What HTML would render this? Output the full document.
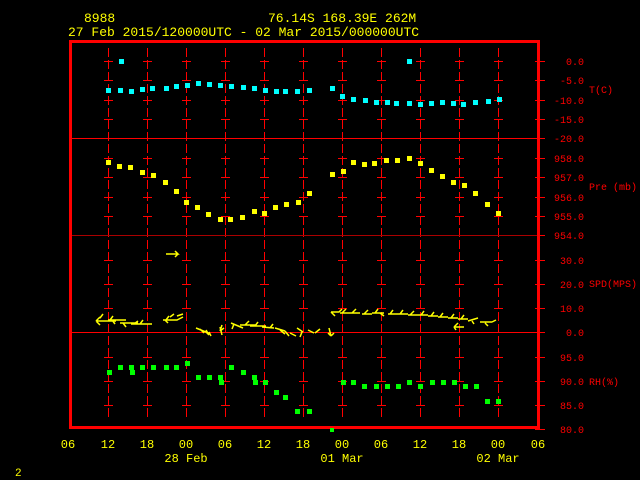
<!DOCTYPE html>
<html><head><meta charset="utf-8"><style>
html,body{margin:0;padding:0;background:#000;width:640px;height:480px;overflow:hidden}
svg{display:block}
text{font-family:"Liberation Mono",monospace}
</style></head><body>
<svg width="640" height="480" viewBox="0 0 640 480" xmlns="http://www.w3.org/2000/svg">
<rect width="640" height="480" fill="#000"/>
<g fill="#ff0" font-size="13">
<text x="84" y="22">8988</text>
<text x="268" y="22">76.14S  168.39E   262M</text>
<text x="68" y="36">27 Feb 2015/120000UTC - 02 Mar 2015/000000UTC</text>
</g>
<g stroke="#f00" stroke-width="1" stroke-dasharray="9 3" shape-rendering="crispEdges">
<line x1="108.5" y1="48" x2="108.5" y2="420"/><line x1="147.5" y1="48" x2="147.5" y2="420"/>
<line x1="186.5" y1="48" x2="186.5" y2="420"/><line x1="225.5" y1="48" x2="225.5" y2="420"/>
<line x1="264.5" y1="48" x2="264.5" y2="420"/><line x1="303.5" y1="48" x2="303.5" y2="420"/>
<line x1="342.5" y1="48" x2="342.5" y2="420"/><line x1="381.5" y1="48" x2="381.5" y2="420"/>
<line x1="420.5" y1="48" x2="420.5" y2="420"/><line x1="459.5" y1="48" x2="459.5" y2="420"/>
<line x1="498.5" y1="48" x2="498.5" y2="420"/>
</g>
<g stroke="#f00" stroke-width="1" shape-rendering="crispEdges">
<path d="M104 61.5h9m30 0h9m30 0h9m30 0h9m30 0h9m30 0h9m30 0h9m30 0h9m30 0h9m30 0h9m30 0h9
M104 80.5h9m30 0h9m30 0h9m30 0h9m30 0h9m30 0h9m30 0h9m30 0h9m30 0h9m30 0h9m30 0h9
M104 100.5h9m30 0h9m30 0h9m30 0h9m30 0h9m30 0h9m30 0h9m30 0h9m30 0h9m30 0h9m30 0h9
M104 119.5h9m30 0h9m30 0h9m30 0h9m30 0h9m30 0h9m30 0h9m30 0h9m30 0h9m30 0h9m30 0h9
M104 158.5h9m30 0h9m30 0h9m30 0h9m30 0h9m30 0h9m30 0h9m30 0h9m30 0h9m30 0h9m30 0h9
M104 177.5h9m30 0h9m30 0h9m30 0h9m30 0h9m30 0h9m30 0h9m30 0h9m30 0h9m30 0h9m30 0h9
M104 197.5h9m30 0h9m30 0h9m30 0h9m30 0h9m30 0h9m30 0h9m30 0h9m30 0h9m30 0h9m30 0h9
M104 216.5h9m30 0h9m30 0h9m30 0h9m30 0h9m30 0h9m30 0h9m30 0h9m30 0h9m30 0h9m30 0h9
M104 260.5h9m30 0h9m30 0h9m30 0h9m30 0h9m30 0h9m30 0h9m30 0h9m30 0h9m30 0h9m30 0h9
M104 284.5h9m30 0h9m30 0h9m30 0h9m30 0h9m30 0h9m30 0h9m30 0h9m30 0h9m30 0h9m30 0h9
M104 308.5h9m30 0h9m30 0h9m30 0h9m30 0h9m30 0h9m30 0h9m30 0h9m30 0h9m30 0h9m30 0h9
M104 357.5h9m30 0h9m30 0h9m30 0h9m30 0h9m30 0h9m30 0h9m30 0h9m30 0h9m30 0h9m30 0h9
M104 381.5h9m30 0h9m30 0h9m30 0h9m30 0h9m30 0h9m30 0h9m30 0h9m30 0h9m30 0h9m30 0h9
M104 405.5h9m30 0h9m30 0h9m30 0h9m30 0h9m30 0h9m30 0h9m30 0h9m30 0h9m30 0h9m30 0h9"/>
<path d="M535 61.5h10M535 80.5h10M535 100.5h10M535 119.5h10M535 138.5h10M535 158.5h10M535 177.5h10M535 197.5h10M535 216.5h10M535 235.5h10M535 260.5h10M535 284.5h10M535 308.5h10M535 332.5h10M535 357.5h10M535 381.5h10M535 405.5h10M535 429.5h10"/>
<line x1="70" y1="138.5" x2="540" y2="138.5"/>
<line x1="70" y1="235.5" x2="540" y2="235.5" stroke="#a00"/>
<line x1="70" y1="332.5" x2="540" y2="332.5"/>
</g>
<rect x="70.5" y="41.5" width="468" height="386" fill="none" stroke="#f00" stroke-width="3"/>
<g fill="#f00" font-size="10" text-anchor="end">
<text x="584" y="65">0.0</text><text x="584" y="84">-5.0</text><text x="584" y="104">-10.0</text>
<text x="584" y="123">-15.0</text><text x="584" y="142">-20.0</text>
<text x="584" y="162">958.0</text><text x="584" y="181">957.0</text><text x="584" y="201">956.0</text>
<text x="584" y="220">955.0</text><text x="584" y="239">954.0</text>
<text x="584" y="264">30.0</text><text x="584" y="288">20.0</text><text x="584" y="312">10.0</text>
<text x="584" y="336">0.0</text><text x="584" y="361">95.0</text><text x="584" y="385">90.0</text>
<text x="584" y="409">85.0</text><text x="584" y="433">80.0</text>
</g>
<g fill="#f00" font-size="10">
<text x="589" y="93">T(C)</text><text x="589" y="190">Pre (mb)</text>
<text x="589" y="287">SPD(MPS)</text><text x="589" y="385">RH(%)</text>
</g>
<g fill="#ff0" font-size="12" text-anchor="middle">
<text x="68" y="448">06</text><text x="108" y="448">12</text><text x="147" y="448">18</text>
<text x="186" y="448">00</text><text x="225" y="448">06</text><text x="264" y="448">12</text>
<text x="303" y="448">18</text><text x="342" y="448">00</text><text x="381" y="448">06</text>
<text x="420" y="448">12</text><text x="459" y="448">18</text><text x="498" y="448">00</text>
<text x="538" y="448">06</text>
<text x="186" y="462">28 Feb</text><text x="342" y="462">01 Mar</text><text x="498" y="462">02 Mar</text>
</g>
<text x="15" y="476" fill="#ff0" font-size="11">2</text>
<g fill="#0ff">
<rect x="106" y="88" width="5" height="5"/><rect x="118" y="88" width="5" height="5"/><rect x="129" y="89" width="5" height="5"/>
<rect x="140" y="87" width="5" height="5"/><rect x="150" y="86" width="5" height="5"/><rect x="164" y="86" width="5" height="5"/>
<rect x="174" y="84" width="5" height="5"/><rect x="185" y="83" width="5" height="5"/><rect x="196" y="81" width="5" height="5"/>
<rect x="207" y="82" width="5" height="5"/><rect x="218" y="83" width="5" height="5"/><rect x="229" y="84" width="5" height="5"/>
<rect x="241" y="85" width="5" height="5"/><rect x="252" y="86" width="5" height="5"/><rect x="263" y="88" width="5" height="5"/>
<rect x="274" y="89" width="5" height="5"/><rect x="283" y="89" width="5" height="5"/><rect x="295" y="89" width="5" height="5"/>
<rect x="307" y="88" width="5" height="5"/><rect x="330" y="86" width="5" height="5"/><rect x="340" y="94" width="5" height="5"/>
<rect x="351" y="97" width="5" height="5"/><rect x="363" y="98" width="5" height="5"/><rect x="374" y="100" width="5" height="5"/>
<rect x="385" y="100" width="5" height="5"/><rect x="394" y="101" width="5" height="5"/><rect x="407" y="101" width="5" height="5"/>
<rect x="418" y="102" width="5" height="5"/><rect x="429" y="101" width="5" height="5"/><rect x="440" y="100" width="5" height="5"/>
<rect x="451" y="101" width="5" height="5"/><rect x="461" y="102" width="5" height="5"/><rect x="473" y="100" width="5" height="5"/>
<rect x="486" y="99" width="5" height="5"/><rect x="497" y="97" width="5" height="5"/>
<rect x="119" y="59" width="5" height="5"/><rect x="407" y="59" width="5" height="5"/>
</g>
<g fill="#ff0">
<rect x="106" y="160" width="5" height="5"/><rect x="117" y="164" width="5" height="5"/><rect x="128" y="165" width="5" height="5"/>
<rect x="140" y="170" width="5" height="5"/><rect x="151" y="173" width="5" height="5"/><rect x="163" y="180" width="5" height="5"/>
<rect x="174" y="189" width="5" height="5"/><rect x="184" y="200" width="5" height="5"/><rect x="195" y="205" width="5" height="5"/>
<rect x="206" y="212" width="5" height="5"/><rect x="218" y="217" width="5" height="5"/><rect x="228" y="217" width="5" height="5"/>
<rect x="240" y="215" width="5" height="5"/><rect x="252" y="209" width="5" height="5"/><rect x="262" y="211" width="5" height="5"/>
<rect x="273" y="205" width="5" height="5"/><rect x="284" y="202" width="5" height="5"/><rect x="296" y="200" width="5" height="5"/>
<rect x="307" y="191" width="5" height="5"/><rect x="330" y="172" width="5" height="5"/><rect x="341" y="169" width="5" height="5"/>
<rect x="351" y="160" width="5" height="5"/><rect x="362" y="162" width="5" height="5"/><rect x="372" y="161" width="5" height="5"/>
<rect x="384" y="158" width="5" height="5"/><rect x="395" y="158" width="5" height="5"/><rect x="407" y="156" width="5" height="5"/>
<rect x="418" y="161" width="5" height="5"/><rect x="429" y="168" width="5" height="5"/><rect x="440" y="174" width="5" height="5"/>
<rect x="451" y="180" width="5" height="5"/><rect x="462" y="183" width="5" height="5"/><rect x="473" y="191" width="5" height="5"/>
<rect x="485" y="202" width="5" height="5"/><rect x="496" y="211" width="5" height="5"/>
</g>
<g fill="#0f0">
<rect x="107" y="370" width="5" height="5"/><rect x="118" y="365" width="5" height="5"/><rect x="129" y="365" width="5" height="5"/>
<rect x="130" y="370" width="5" height="5"/><rect x="140" y="365" width="5" height="5"/><rect x="151" y="365" width="5" height="5"/>
<rect x="164" y="365" width="5" height="5"/><rect x="174" y="365" width="5" height="5"/><rect x="185" y="361" width="5" height="5"/>
<rect x="196" y="375" width="5" height="5"/><rect x="207" y="375" width="5" height="5"/><rect x="218" y="375" width="5" height="5"/>
<rect x="219" y="380" width="5" height="5"/><rect x="229" y="365" width="5" height="5"/><rect x="241" y="370" width="5" height="5"/>
<rect x="252" y="375" width="5" height="5"/><rect x="253" y="380" width="5" height="5"/><rect x="263" y="380" width="5" height="5"/>
<rect x="274" y="390" width="5" height="5"/><rect x="283" y="395" width="5" height="5"/><rect x="295" y="409" width="5" height="5"/>
<rect x="307" y="409" width="5" height="5"/><rect x="330" y="428" width="4" height="4"/><rect x="341" y="380" width="5" height="5"/>
<rect x="351" y="380" width="5" height="5"/><rect x="362" y="384" width="5" height="5"/><rect x="374" y="384" width="5" height="5"/>
<rect x="385" y="384" width="5" height="5"/><rect x="396" y="384" width="5" height="5"/><rect x="407" y="380" width="5" height="5"/>
<rect x="418" y="384" width="5" height="5"/><rect x="430" y="380" width="5" height="5"/><rect x="441" y="380" width="5" height="5"/>
<rect x="452" y="380" width="5" height="5"/><rect x="463" y="384" width="5" height="5"/><rect x="474" y="384" width="5" height="5"/>
<rect x="485" y="399" width="5" height="5"/><rect x="496" y="399" width="5" height="5"/>
</g>
<g stroke="#ff0" stroke-width="1.5" fill="none">
<path d="M166 254h12l-3-3M178 254l-3 3"/>
<path d="M96 321h20M96 321l4-4M96 321l4 4M100 318l3-4M108 320h18M110 320l3-4M112 320l3 4M120 323h18M123 323l3 4M131 324h20M134 324l4-3M142 324h10M140 324l3-4"/>
<path d="M163 320h14l6-3M166 320l3-4M170 317l4-3M177 316l6-2M165 320l3 3"/>
<path d="M196 328l10 4l3 3M200 329l4 4M206 330l3 5M209 332l2 4M220 331l2-6M220 331l4 -3M222 335l-2-8"/>
<path d="M231 323l12 5M234 324l-2 5M240 325h16M245 325l4-4M250 326h16M255 326l3-4M262 327l12 1M270 328l3-4M275 328l10 3M280 330l5 4M285 331l4 5M290 333l6 3"/>
<path d="M297 328l6 4M302 332l-2 5M308 330l6 3M315 333l5-4M329 328l2 8M331 336l-3-3M331 336l3-3"/>
<path d="M331 312h8l3-3M331 312l4 4M340 313h10M342 313l4-4M350 313h10M352 313l4-4M362 314h10M364 314l4-4M372 313h12M375 313l3-4M380 313l4 3M388 314h12M390 314l3-4M398 314h10M400 314l3-4M408 315h10M410 315l4-4M418 315h10M421 315l3-4M428 316h10M431 316l3-4M438 317h10M440 317l3-4M448 318h10M451 318l3-4M458 319h10M461 319l3-4M468 321l10-3M472 321l2 3M480 322h12M492 322l4-2M485 323l3 3"/>
<path d="M454 327h10M454 327l4-4M454 327l2 3"/>
</g>
</svg>
</body></html>
